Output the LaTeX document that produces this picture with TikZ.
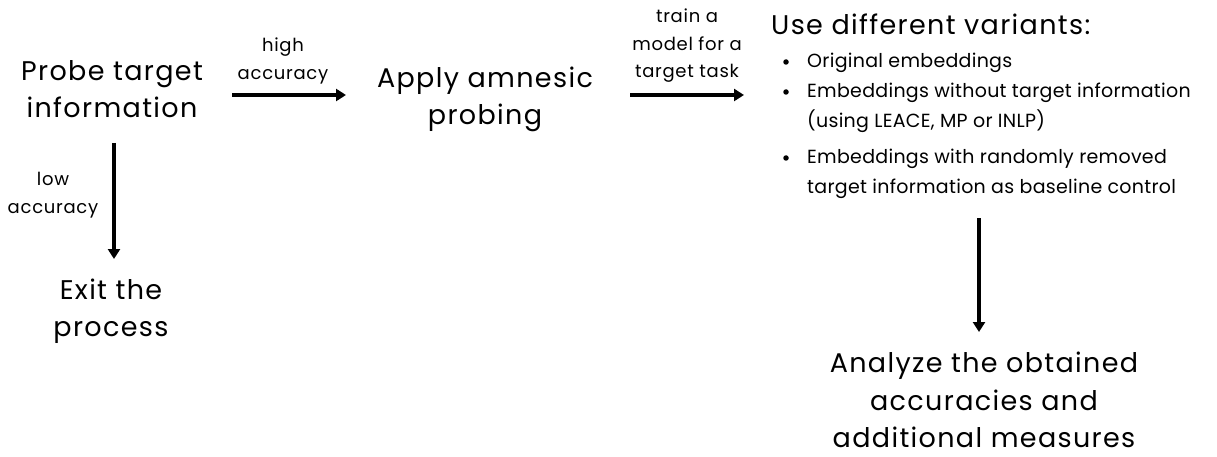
\documentclass[tikz,border=0pt]{standalone}
\usepackage{fontspec}
\setmainfont{Poppins}
\newfontfamily\bigfont[LetterSpace=5]{Poppins}
\newfontfamily\smallfont[LetterSpace=4]{Poppins}
\newfontfamily\itemfont[LetterSpace=1.5]{Poppins}
\usetikzlibrary{arrows.meta}
\begin{document}
\begin{tikzpicture}[x=1pt,y=-1pt,
  big/.style={font=\bigfont\fontsize{27}{37.5}\selectfont, align=center, inner sep=0pt},
  small/.style={font=\smallfont\fontsize{18}{27.5}\selectfont, align=center, inner sep=0pt},
  item/.style={font=\itemfont\fontsize{19}{30}\selectfont, align=left, inner sep=0pt, anchor=west},
  arr/.style={line width=3.2pt, -{Triangle[length=10pt,width=12pt]}},
  dot/.style={circle, fill, inner sep=0pt, minimum size=5.5pt}]
\useasboundingbox (0,0) rectangle (1217,457);

\node[big] (probe) at (112,89) {Probe target\\information};
\node[big] (apply) at (485,99.5) {Apply amnesic\\probing};
\node[big] (exit) at (111,311) {Exit the\\process};
\node[big] (analyze) at (984,400) {Analyze the obtained\\accuracies and\\additional measures};
\node[big, anchor=west] (use) at (771,24) {Use different variants:};

\node[dot] (b1) at (786,62) {};
\node[item] (i1) at (807,63) {Original embeddings};
\node[dot] (b2) at (786,92) {};
\node[item] (i2) at (807,108) {Embeddings without target information\\(using LEACE, MP or INLP)};
\node[dot] (b3) at (786,158) {};
\node[item] (i3) at (807,174) {Embeddings with randomly removed\\target information as baseline control};

\node[small] (hi) at (283,61) {high\\accuracy};
\node[small] (train) at (687,46) {train a\\model for a\\target task};
\node[small] (low) at (53,195) {low\\accuracy};

\coordinate (a1s) at (232,95); \coordinate (a1e) at (346,95);
\coordinate (a2s) at (630,95); \coordinate (a2e) at (744,95);
\coordinate (a3s) at (114,143); \coordinate (a3e) at (114,259);
\coordinate (a4s) at (979,218); \coordinate (a4e) at (979,332);

\draw[arr] (a1s) -- (a1e);
\draw[arr] (a2s) -- (a2e);
\draw[arr] (a3s) -- (a3e);
\draw[arr] (a4s) -- (a4e);
\end{tikzpicture}
\end{document}
